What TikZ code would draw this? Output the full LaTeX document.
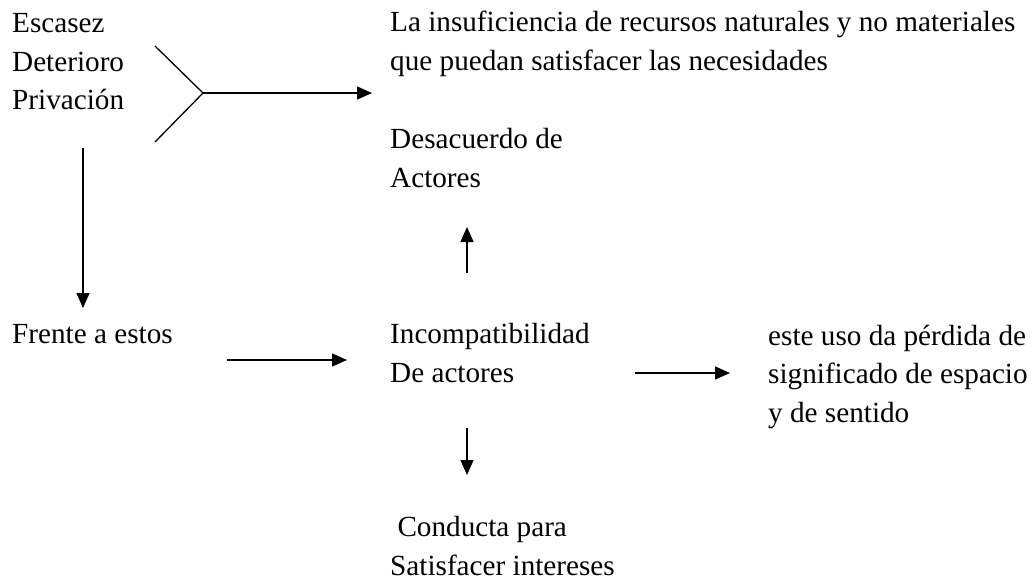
\documentclass[tikz,border=0pt]{standalone}
\usepackage{fontspec}
\setmainfont{Liberation Serif}
\usetikzlibrary{arrows.meta}
\tikzset{
  lbl/.style={anchor=base west,align=left,inner sep=0pt,font=\fontsize{29.2}{38.5}\selectfont},
  flecha/.style={line width=1.3pt,-{Triangle[length=15pt,width=13pt]}}
}
\begin{document}
\begin{tikzpicture}[x=1pt,y=-1pt]
  \useasboundingbox (0,0) rectangle (1032,580);
  % textos (base = ultima linea)
  \node[lbl] (causas) at (12,110) {Escasez\\Deterioro\\Privación};
  \node[lbl] (insuf) at (390,70.5) {La insuficiencia de recursos naturales y no materiales\\que puedan satisfacer las necesidades};
  \node[lbl] (desac) at (390,187) {Desacuerdo de\\Actores};
  \node[lbl] (frente) at (12,343) {Frente a estos};
  \node[lbl] (incomp) at (390,382) {Incompatibilidad\\De actores};
  \node[lbl] (perdida) at (768,422) {este uso da pérdida de\\significado de espacio\\y de sentido};
  \node[lbl] (conducta) at (390,575) {\ Conducta para\\Satisfacer intereses};
  % puntos de las flechas
  \coordinate (fork) at (203,93);
  \coordinate (forkA) at (155,46);
  \coordinate (forkB) at (155,142);
  \coordinate (forkEnd) at (372,93);
  \coordinate (bajaA) at (83,148);
  \coordinate (bajaB) at (83,308);
  \coordinate (medA) at (227,360);
  \coordinate (medB) at (347,360);
  \coordinate (subeA) at (467,273);
  \coordinate (subeB) at (467,227);
  \coordinate (derA) at (635,373);
  \coordinate (derB) at (730,373);
  \coordinate (abajoA) at (467,428);
  \coordinate (abajoB) at (467,475);
  % flechas
  \draw[line width=1.3pt] (forkA) -- (fork) -- (forkB);
  \draw[flecha] (fork) -- (forkEnd);
  \draw[flecha] (bajaA) -- (bajaB);
  \draw[flecha] (medA) -- (medB);
  \draw[flecha] (subeA) -- (subeB);
  \draw[flecha] (derA) -- (derB);
  \draw[flecha] (abajoA) -- (abajoB);
\end{tikzpicture}
\end{document}
